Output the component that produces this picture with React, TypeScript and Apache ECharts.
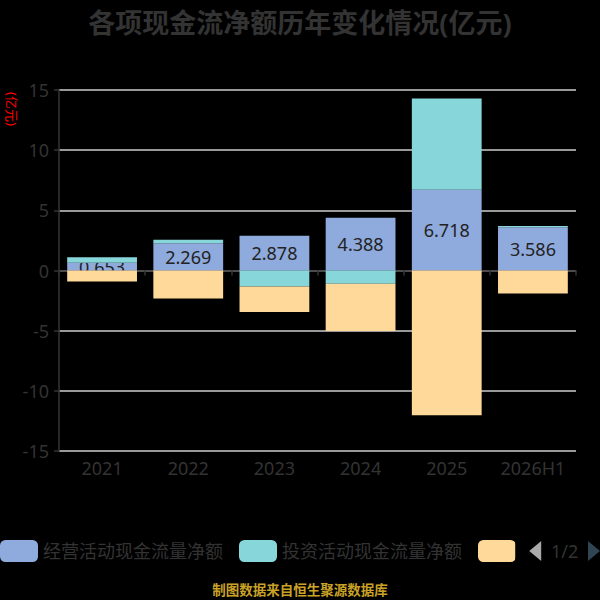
import React, { useEffect, useRef } from "react";
import * as echarts from "echarts";

const categories = ["2021", "2022", "2023", "2024", "2025", "2026H1"];
const operating = [0.653, 2.269, 2.878, 4.388, 6.718, 3.586];
const investing = [0.45, 0.28, -1.33, -1.1, 7.58, 0.12];
const financing = [-0.92, -2.33, -2.12, -3.92, -12.03, -1.92];
const seriesNames = ["经营活动现金流量净额", "投资活动现金流量净额", "筹资活动现金流量净额"];
const colors = ["#8FAADC", "#87D6D9", "#FFD99A"];

const FONT = "'Noto Sans', 'Noto Sans CJK SC', sans-serif";

export default function App() {
  const ref = useRef<HTMLDivElement>(null);
  useEffect(() => {
    if (!ref.current) return;
    const chart = echarts.init(ref.current, undefined, { renderer: "svg" });
    const values = [operating, investing, financing];
    chart.setOption({
      animation: false,
      backgroundColor: "#000",
      textStyle: { fontFamily: FONT },
      color: colors,
      title: {
        text: "各项现金流净额历年变化情况(亿元)",
        left: "center",
        top: 4,
        textStyle: { fontSize: 27, fontWeight: "bold", color: "#333", fontFamily: FONT },
      },
      legend: {
        type: "scroll",
        left: 0,
        top: 540,
        padding: 0,
        itemWidth: 38,
        itemHeight: 22,
        itemGap: 16,
        icon: "roundRect",
        textStyle: { fontSize: 18, color: "#333", fontFamily: FONT },
        pageIconSize: [13, 20],
        pageButtonItemGap: 1,
        pageButtonGap: 14,
        pageIconColor: "#2f4554",
        pageIconInactiveColor: "#aaa",
        pageTextStyle: { fontSize: 18, color: "#333", fontFamily: FONT },
        data: seriesNames,
      },
      grid: { left: 59, right: 24, top: 90, bottom: 149, outerBoundsMode: "none" },
      xAxis: [
        {
          type: "category",
          data: categories,
          axisLine: { show: true, onZero: true, lineStyle: { color: "#333", width: 1.5 } },
          axisTick: { show: true, length: 5, alignWithLabel: false, lineStyle: { color: "#333", width: 1.5 } },
          axisLabel: { show: false },
          splitLine: { show: false },
        },
        {
          type: "category",
          data: categories,
          position: "bottom",
          axisLine: { show: false, onZero: false },
          axisTick: { show: false },
          axisLabel: { show: true, fontSize: 18, color: "#333", margin: 8, fontFamily: FONT },
          splitLine: { show: false },
        },
      ],
      yAxis: {
        type: "value",
        min: -15,
        max: 15,
        interval: 5,
        axisLine: { show: true, lineStyle: { color: "#333", width: 1.5 } },
        axisTick: { show: true, length: 5, lineStyle: { color: "#333", width: 1.5 } },
        axisLabel: { fontSize: 18, color: "#333", margin: 10, fontFamily: FONT },
        splitLine: { show: true, lineStyle: { color: "#ccc", width: 1.5 } },
      },
      graphic: [
        {
          type: "text",
          x: 12,
          y: 109,
          rotation: -Math.PI / 2,
          style: {
            text: "(亿元)",
            fill: "#ff0000",
            fontSize: 13,
            fontFamily: FONT,
            align: "center",
            verticalAlign: "middle",
          },
        },
        {
          type: "text",
          x: 300,
          y: 590,
          style: {
            text: "制图数据来自恒生聚源数据库",
            fill: "#C9A227",
            fontSize: 13.5,
            fontWeight: "bold",
            fontFamily: FONT,
            align: "center",
            verticalAlign: "middle",
          },
        },
      ],
      series: seriesNames.map((name, i) => ({
        name,
        type: "bar",
        stack: "total",
        xAxisIndex: 0,
        z: i === 0 ? 2 : 3,
        barWidth: "81%",
        data: values[i],
        itemStyle: { color: colors[i] },
        label:
          i === 0
            ? {
                show: true,
                position: "inside",
                fontSize: 18,
                color: "#222",
                fontFamily: FONT,
                formatter: (p: any) => Number(p.value).toFixed(3),
              }
            : { show: false },
      })),
    });
    return () => chart.dispose();
  }, []);
  return (
    <div
      ref={ref}
      style={{ position: "fixed", left: 0, top: 0, width: 600, height: 600 }}
    />
  );
}
